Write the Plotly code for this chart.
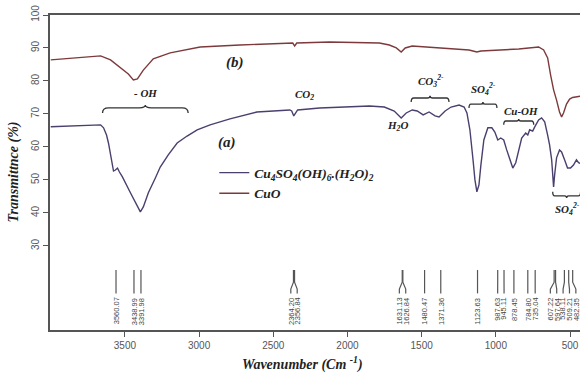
import plotly.graph_objects as go

# ---------------- data ----------------
wn_a = [4000, 3866, 3664, 3644, 3624, 3611, 3591, 3577, 3564, 3550, 3537, 3517, 3463, 3430, 3409, 3396,
        3376, 3342, 3295, 3262, 3208, 3148, 3081, 3013, 2926, 2792, 2611, 2389, 2376, 2362, 2349, 2336,
        2188, 2054, 1852, 1752, 1685, 1638, 1604, 1564, 1530, 1490, 1450, 1410, 1383, 1342, 1302, 1248,
        1214, 1195, 1175, 1154, 1141, 1128, 1114, 1101, 1081, 1054, 1027, 1007, 987, 967, 947, 927, 906,
        886, 866, 846, 826, 799, 785, 772, 752, 738, 712, 692, 671, 651, 638, 624, 611, 604, 591, 571,
        557, 537, 517, 497, 477, 457, 443, 430]
tr_a = [66.1, 66.4, 66.7, 65.8, 63.6, 61.2, 56.1, 52.7, 53.0, 53.6, 52.4, 50.9, 46.1, 43.0, 41.2, 40.3,
        41.8, 46.1, 50.6, 53.9, 57.6, 61.2, 63.3, 65.2, 66.7, 68.5, 70.6, 71.2, 70.9, 69.4, 70.3, 71.2,
        71.8, 72.1, 72.4, 72.1, 70.9, 68.8, 70.3, 71.2, 70.9, 69.7, 70.6, 69.4, 69.1, 70.9, 72.1, 72.7,
        72.1, 70.3, 65.2, 56.1, 50.0, 46.4, 48.5, 54.5, 62.1, 65.8, 65.8, 64.5, 62.1, 62.7, 62.1, 59.1, 56.1,
        53.6, 55.2, 59.1, 62.7, 64.2, 63.6, 65.2, 64.8, 66.1, 68.2, 68.8, 67.6, 63.6, 60.6, 56.1, 47.9, 51.5, 56.7, 59.1,
        58.5, 56.1, 53.6, 53.6, 54.5, 56.1, 55.2, 55.0]

wn_b = [4000, 3832, 3664, 3597, 3530, 3477, 3443, 3416, 3376, 3309, 3195, 2993, 2725, 2389, 2369, 2356,
        2342, 2121, 1785, 1718, 1671, 1638, 1611, 1564, 1383, 1181, 1128, 1101, 846, 712, 678, 651, 631,
        611, 591, 571, 557, 544, 524, 503, 483, 463, 443, 430]
tr_b = [86.4, 87.0, 87.6, 86.4, 83.9, 82.1, 80.3, 80.6, 83.3, 86.7, 88.5, 90.3, 90.9, 91.5, 91.5, 90.6,
        91.5, 91.8, 91.5, 90.9, 90.0, 88.8, 90.0, 90.6, 90.0, 89.4, 88.8, 89.1, 89.7, 90.3, 89.4, 87.0, 81.8,
        77.3, 74.2, 70.6, 69.1, 70.3, 73.0, 74.5, 75.0, 75.2, 75.3, 75.4]

name_a = "Cu<sub>4</sub>SO<sub>4</sub>(OH)<sub>6</sub>.(H<sub>2</sub>O)<sub>2</sub>"
name_b = "CuO"

peaks = [3560.07, 3438.99, 3391.98, 2364.20, 2356.84, 1631.13, 1626.84, 1480.47, 1371.36, 1123.63,
         987.63, 945.11, 878.45, 784.80, 735.04, 607.22, 597.64, 538.11, 509.21, 482.35]

x_ticks = [3500, 3000, 2500, 2000, 1500, 1000, 500]
y_ticks = [30, 40, 50, 60, 70, 80, 90, 100]

# band labels: (text, x, y)
band_labels = [
    ("- OH", 3362, 76.4), ("CO<sub>2</sub>", 2289, 75.8), ("H<sub>2</sub>O", 1665, 66.2),
    ("CO<sub>3</sub><sup>2-</sup>", 1436, 79.9), ("SO<sub>4</sub><sup>2-</sup>", 1081, 77.5),
    ("Cu-OH", 832, 70.9), ("SO<sub>4</sub><sup>2-</sup>", 520, 41.3),
]
# braces: (x_start, x_end, y_end, y_tip)
braces = [(3651, 3074, 70.3, 72.7), (1571, 1316, 73.6, 75.5), (1181, 993, 71.8, 73.6),
          (947, 745, 66.7, 68.5), (617, 429, 46.4, 44.5)]
curve_labels = [("(b)", 2758, 85.5), ("(a)", 2812, 61.2)]

# ---------------- figure ----------------
col_a = "#4b3f6e"
col_b = "#7d3a3c"
serif = "Liberation Serif"

fig = go.Figure()
fig.add_trace(go.Scatter(x=wn_a, y=tr_a, mode="lines", name=name_a,
                         line=dict(color=col_a, width=1.4)))
fig.add_trace(go.Scatter(x=wn_b, y=tr_b, mode="lines", name=name_b,
                         line=dict(color=col_b, width=1.4)))

# peak leader lines and labels
sep = 43.0
pos = sorted(peaks, reverse=True)
lab = list(pos)
for _ in range(200):
    for i in range(len(lab) - 1):
        gap = lab[i] - lab[i + 1]
        if gap < sep:
            d = (sep - gap) / 2
            lab[i] += d
            lab[i + 1] -= d
y_top, y_k1, y_k2, y_bot = 22.7, 19.0, 16.9, 15.6
for p, lx in zip(pos, lab):
    fig.add_shape(type="path", xref="x", yref="y",
                  path=f"M {p},{y_top} L {p},{y_k1} L {lx},{y_k2} L {lx},{y_bot}",
                  line=dict(color="#555555", width=1.2))
    fig.add_annotation(x=lx, y=14.9, text=f"{p:.2f}", showarrow=False, textangle=-90,
                       xanchor="center", yanchor="top",
                       font=dict(family="Liberation Sans", size=7.5, color="#444444"))

# braces
for x0, x1, ye, yt in braces:
    xm = (x0 + x1) / 2
    d = (x1 - x0) * 0.07
    ym = ye + 0.65 * (yt - ye)
    path = (f"M {x0},{ye} Q {x0},{ym} {x0 + d},{ym} L {xm - d},{ym} Q {xm},{ym} {xm},{yt} "
            f"Q {xm},{ym} {xm + d},{ym} L {x1 - d},{ym} Q {x1},{ym} {x1},{ye}")
    fig.add_shape(type="path", xref="x", yref="y", path=path,
                  line=dict(color="#333333", width=1.3))

for t, x, y in band_labels:
    fig.add_annotation(x=x, y=y, text=f"<b><i>{t}</i></b>", showarrow=False,
                       font=dict(family=serif, size=11, color="#222222"))
for t, x, y in curve_labels:
    fig.add_annotation(x=x, y=y, text=f"<b><i>{t}</i></b>", showarrow=False,
                       font=dict(family=serif, size=15, color="#222222"))

# axis titles
fig.add_annotation(xref="paper", yref="paper", x=0, y=0.5, xanchor="right", xshift=-27,
                   text="<b><i>Transmittnce (%)</i></b>", textangle=-90, showarrow=False,
                   font=dict(family=serif, size=14, color="#222222"))
fig.add_annotation(xref="paper", yref="paper", x=0.477, y=0, yanchor="top", yshift=-22,
                   text="<b><i>Wavenumber (Cm <sup>-1</sup>)</i></b>", showarrow=False,
                   font=dict(family=serif, size=14, color="#222222"))

fig.update_layout(
    width=580, height=374,
    margin=dict(l=50, r=0, t=15, b=44),
    paper_bgcolor="white", plot_bgcolor="white",
    showlegend=True,
    legend=dict(x=0.31, y=0.548, xanchor="left", yanchor="top", bgcolor="rgba(0,0,0,0)",
                font=dict(family=serif, size=13.5, color="#222222"), tracegroupgap=0,
                itemwidth=30),
    xaxis=dict(range=[4005, 433], tickvals=x_ticks, ticks="outside", ticklen=5, tickwidth=1.2,
               tickcolor="#555555", showline=True, linecolor="#555555", linewidth=1.5,
               mirror=True, showgrid=False, zeroline=False,
               tickfont=dict(family="Liberation Sans", size=10, color="#555555")),
    yaxis=dict(range=[4.5, 100], tickvals=y_ticks, ticks="outside", ticklen=5, tickwidth=1.2,
               tickcolor="#555555", showline=True, linecolor="#555555", linewidth=1.5,
               showgrid=False, zeroline=False, tickangle=-90,
               tickfont=dict(family="Liberation Sans", size=10, color="#555555")),
)
for tr in fig.data:
    tr.name = f"<b><i>{tr.name}</i></b>"

fig.write_html("out.html")
